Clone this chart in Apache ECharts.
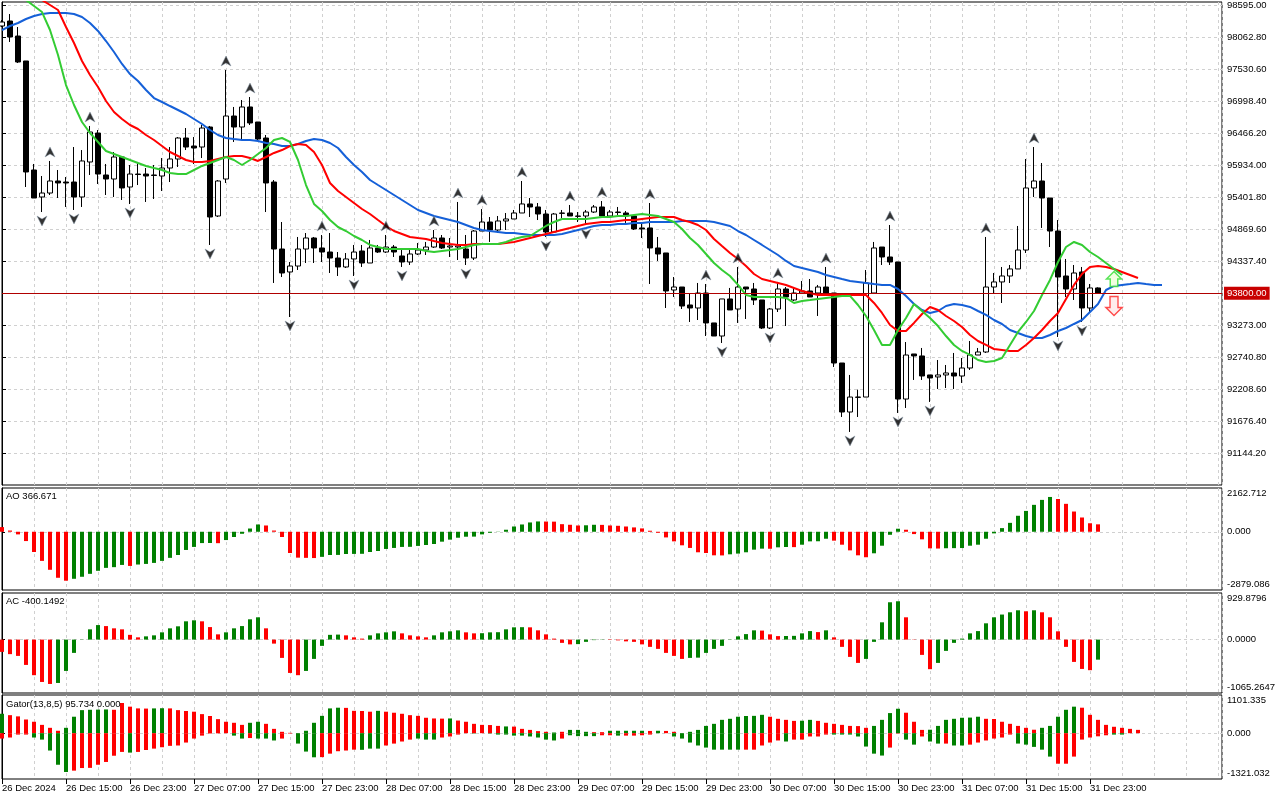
<!DOCTYPE html>
<html><head><meta charset="utf-8">
<script src="https://cdn.jsdelivr.net/npm/echarts@6/dist/echarts.min.js"></script>
<style>html,body{margin:0;padding:0;background:#fff}#c{width:1280px;height:800px}</style>
</head><body><div id="c"></div>
<script>
const timeLabels = ["26 Dec 2024","26 Dec 15:00","26 Dec 23:00","27 Dec 07:00","27 Dec 15:00","27 Dec 23:00","28 Dec 07:00","28 Dec 15:00","28 Dec 23:00","29 Dec 07:00","29 Dec 15:00","29 Dec 23:00","30 Dec 07:00","30 Dec 15:00","30 Dec 23:00","31 Dec 07:00","31 Dec 15:00","31 Dec 23:00"];
const priceTicks = [98595.00,98062.80,97530.60,96998.40,96466.20,95934.00,95401.80,94869.60,94337.40,93805.20,93273.00,92740.80,92208.60,91676.40,91144.20];
const hiddenPriceTick = 93805.20;
const priceRange = [90612, 98645];
const aoRange = [-2879.086, 2162.712];
const acRange = [-1065.2647, 929.8796];
const gatorRange = [-1321.032, 1101.335];

// [open, close, low, high]
const candles = [
[98246,98312,98229,98345],[98329,98063,97980,98445],[98079,97647,97630,98229],[97664,95818,95568,97664],[95851,95385,95385,95951],
[95402,95468,95152,95751],[95468,95668,95435,96001],[95668,95635,95385,95851],[95651,95635,95236,95734],[95651,95402,95186,96233],
[95402,96001,95236,96183],[95984,96483,95768,96583],[96466,95784,95618,96516],[95768,95701,95435,95951],[95701,96067,95402,96150],
[96067,95552,95352,96067],[95568,95784,95285,95934],[95784,95776,95601,95967],[95784,95751,95319,95884],[95768,95760,95369,95934],
[95751,95884,95502,96050],[95884,96034,95651,96233],[96034,96383,95901,96399],[96383,96233,96183,96549],[96250,96217,95951,96399],
[96233,96549,96050,96599],[96566,95069,94604,96583],[95086,95668,95069,95684],[95701,96749,95635,97514],[96749,96566,96317,96899],
[96566,96899,96350,97015],[96899,96633,96599,97065],[96649,96366,96350,96649],[96383,95635,95152,96433],[95651,94537,93972,95684],
[94537,94138,94071,94986],[94155,94254,93406,94321],[94254,94537,94188,94737],[94537,94720,94304,94803],[94720,94554,94304,94737],
[94554,94487,94321,94770],[94487,94387,94138,94803],[94387,94238,94088,94487],[94238,94371,94221,94470],[94371,94487,94088,94604],
[94504,94304,94238,94604],[94304,94554,94304,94687],[94554,94487,94471,94604],[94487,94570,94471,94770],[94570,94487,94404,94604],
[94421,94321,94238,94520],[94321,94454,94271,94520],[94454,94520,94437,94637],[94520,94570,94437,94654],[94570,94720,94554,94853],
[94720,94554,94537,94770],[94570,94587,94404,94720],[94570,94587,94354,95319],[94537,94387,94271,94770],[94387,94836,94354,94853],
[94836,94986,94836,95202],[94986,94853,94654,95069],[94853,95003,94803,95086],[95003,95036,94853,95136],[95036,95136,95036,95186],
[95136,95286,95136,95668],[95286,95236,95069,95385],[95236,95119,95019,95302],[95119,94820,94737,95186],[94820,95119,94820,95136],
[95136,95130,95053,95186],[95136,95086,95086,95269],[95086,95080,94986,95152],[95086,95152,94936,95186],[95152,95236,95136,95269],
[95236,95086,95086,95335],[95086,95152,95069,95186],[95152,95145,95103,95236],[95136,95086,94970,95169],[95086,94870,94853,95103],
[94887,94870,94720,94986],[94887,94554,93955,95302],[94554,94454,94338,94737],[94471,93839,93556,94471],[93855,93905,93739,94071],
[93905,93589,93539,93905],[93606,93556,93323,93805],[93556,93805,93356,93972],[93805,93307,93090,93955],[93307,93090,93090,93307],
[93090,93706,92974,93706],[93706,93523,93523,93889],[93539,93905,93307,94238],[93905,93872,93373,93905],[93872,93689,93606,93972],
[93689,93223,93206,93689],[93223,93539,93206,93556],[93539,93872,93489,93989],[93872,93739,93256,93905],[93689,93805,93672,93905],
[93805,93839,93805,94005],[93839,93739,93739,94038],[93805,93905,93423,93939],[93905,93805,93805,94238],[93805,92641,92575,93805],
[92641,91826,91743,92641],[91826,92075,91494,92442],[92075,92070,91743,92198],[92075,93972,92075,94188],[93805,94554,93805,94654],
[94570,94404,94271,94570],[94404,94321,94271,94936],[94321,92042,91810,94321],[92042,92774,91893,92990],[92791,92758,92359,92791],
[92758,92425,92359,92891],[92442,92392,91993,92442],[92409,92442,92209,92691],[92442,92475,92225,92608],[92475,92425,92209,92808],
[92425,92558,92309,92724],[92558,92774,92525,93007],[92774,92824,92774,92891],[92824,93905,92808,94737],[93905,93989,93805,94138],
[93989,94088,93639,94238],[94088,94205,93972,94271],[94205,94520,94205,94920],[94520,95552,94471,96034],[95552,95668,95402,96233],
[95668,95385,94887,95967],[95385,94836,94570,95385],[94836,94071,93074,95019],[94088,93872,93739,94371],[93872,94138,93689,94271],
[94155,93556,93323,94238],[93556,93889,93473,93955],[93889,93800,93790,93900]
];

const jaw = [98179,98246,98296,98362,98412,98445,98462,98462,98462,98445,
98395,98296,98163,97996,97813,97614,97447,97331,97181,97048,
96982,96915,96849,96782,96699,96616,96516,96433,96383,96366,
96350,96350,96333,96300,96283,96250,96250,96283,96333,96366,
96350,96300,96217,96067,95934,95818,95685,95601,95518,95435,
95352,95269,95186,95136,95086,95053,95019,94986,94936,94886,
94853,94836,94820,94803,94803,94787,94770,94770,94770,94770,
94787,94820,94853,94886,94920,94936,94936,94953,94953,94970,
94970,94986,94986,94986,94986,95003,95003,95003,95003,94986,
94953,94920,94836,94770,94687,94604,94520,94437,94338,94254,
94221,94188,94155,94105,94072,94038,94005,93989,93972,93955,
93939,93939,93872,93756,93623,93523,93473,93506,93589,93623,
93606,93573,93506,93440,93356,93290,93190,93140,93090,93057,
93057,93107,93173,93223,93290,93356,93489,93623,93855,93922,
93939,93955,93972,93955,93939,93939];

const teeth = [99343,99177,99011,98878,98761,98678,98595,98512,98229,97963,
97664,97431,97231,96998,96815,96699,96599,96533,96433,96350,
96250,96150,96084,96017,95984,95984,96001,96034,96067,96084,
96084,96050,96001,96067,96134,96183,96250,96283,96267,96150,
95934,95635,95502,95402,95302,95202,95119,95019,94920,94836,
94787,94737,94720,94704,94670,94637,94620,94604,94604,94620,
94620,94620,94620,94637,94654,94687,94720,94753,94787,94820,
94853,94886,94920,94953,94970,94986,94986,95003,95019,95019,
95036,95053,95069,95069,95069,95019,94986,94936,94853,94704,
94587,94471,94371,94254,94121,94038,94005,93972,93939,93889,
93839,93805,93772,93772,93772,93772,93772,93772,93772,93639,
93473,93273,93173,93173,93307,93456,93573,93523,93423,93340,
93240,93107,93007,92941,92874,92858,92841,92841,92941,93057,
93190,93340,93473,93706,93939,94121,94238,94254,94238,94205,
94155,94105,94055];

const lips = [99011,98878,98778,98678,98578,98478,98179,97763,97264,96932,
96649,96466,96317,96167,96117,96067,96017,95967,95918,95884,
95851,95801,95784,95784,95851,95918,95967,96017,96067,96017,
95934,96017,96117,96217,96350,96383,96317,96017,95601,95286,
95169,95019,94903,94836,94753,94687,94604,94570,94537,94537,
94537,94537,94537,94504,94487,94504,94520,94537,94570,94604,
94620,94620,94620,94654,94704,94737,94753,94836,94920,94986,
95036,95036,95036,95036,95053,95069,95069,95086,95086,95103,
95119,95103,95086,95036,94986,94870,94720,94604,94454,94304,
94188,94088,93939,93773,93739,93739,93739,93739,93723,93639,
93673,93689,93706,93723,93739,93756,93756,93606,93423,93190,
92941,92941,93190,93389,93623,93506,93389,93256,93090,92941,
92841,92775,92691,92658,92674,92724,92941,93157,93323,93506,
93772,94022,94321,94570,94654,94604,94487,94404,94304,94205,
94105];

const fractalUp = [6,11,28,31,40,48,54,57,60,65,71,75,81,88,92,97,103,111,123,129];
const fractalDown = [5,9,16,26,36,44,50,58,68,73,90,96,106,112,116,132,135];
const signalUp = [[139, 94038]];
const signalDown = [[139, 93589]];

const aoValues = [230,60,-130,-460,-1000,-1440,-1880,-2275,-2420,-2325,
-2225,-2080,-1930,-1785,-1750,-1640,-1690,-1620,-1590,-1540,
-1440,-1290,-1150,-900,-750,-560,-555,-565,-410,-260,
-100,160,360,310,60,-260,-1050,-1280,-1290,-1300,
-1240,-1150,-1145,-1100,-1095,-1090,-1000,-950,-850,-800,
-750,-745,-700,-655,-605,-490,-390,-295,-245,-240,
-130,-50,10,100,260,360,460,510,505,500,
375,345,310,320,345,340,310,295,260,215,
165,50,-50,-280,-475,-670,-800,-1015,-1050,-1165,
-1170,-1115,-1080,-1015,-885,-835,-840,-770,-755,-760,
-640,-475,-470,-345,-440,-640,-920,-1165,-1260,-1065,
-690,-150,150,100,-115,-375,-820,-830,-815,-810,
-805,-690,-640,-345,-80,180,440,790,1030,1330,
1575,1720,1620,1380,1000,705,420,366.671];

const acValues = [-245,-290,-325,-505,-710,-845,-885,-865,-625,-265,
5,205,290,270,225,205,95,45,65,85,
145,225,265,365,385,365,250,105,145,225,
270,405,445,225,-80,-365,-665,-710,-625,-385,
-125,95,100,85,45,20,85,125,145,165,
125,85,65,45,85,145,165,185,145,125,
128,145,148,205,245,248,245,185,105,20,
-65,-95,-90,-45,-10,-5,-8,-15,-35,-45,
-95,-145,-185,-265,-325,-385,-365,-360,-265,-185,
-125,5,65,110,185,180,105,70,72,75,
125,170,150,185,45,-145,-345,-465,-385,-45,
345,745,765,445,-5,-305,-590,-465,-225,-65,
20,125,170,325,445,500,545,585,565,585,
545,445,165,-145,-445,-585,-610,-400.1492];

const gatorUp = [560,520,485,395,330,240,155,70,155,475,
665,675,680,685,675,870,765,715,710,715,
720,715,665,640,620,550,495,405,330,300,
240,300,330,270,125,40,10,0,70,300,
500,715,735,730,645,640,620,645,620,590,
560,520,500,445,425,420,425,365,330,270,
240,235,210,195,190,125,95,60,40,20,
40,95,95,40,30,30,70,70,70,70,
70,65,70,65,40,0,40,95,210,270,
385,415,475,495,500,530,475,415,385,355,
360,385,355,300,270,240,210,205,155,210,
385,580,705,590,330,95,100,210,385,415,
445,450,475,415,410,330,270,210,155,100,
155,210,475,675,765,735,530,385,240,185,
155,125,95.734];
const gatorUpTrend = ["grrrrrrrgg","ggggrrrrrg","grrrrrrrrr","rggrrrrrgg","gggrrrrgrr","rrrrrrgrrr","rrrgrrrrrg","rgggrrgggg","grgrrrgggg","ggggggrrrr","ggrrrrrrrg","gggrrrgggg","gggrrrrrrr","gggggrrrrr","rrr"].join("");

const gatorLo = [-155,-125,-40,-40,-125,-185,-500,-910,-1120,-1080,
-1005,-1000,-910,-830,-650,-540,-560,-540,-485,-445,
-405,-365,-355,-270,-155,-70,-10,-5,0,-70,
-155,-140,-155,-155,-210,-155,-10,-300,-530,-695,
-690,-590,-520,-500,-475,-480,-445,-445,-355,-300,
-240,-185,-155,-185,-185,-125,-95,-40,0,-10,
0,-10,-40,-40,-70,-70,-95,-125,-185,-210,
-155,-60,-85,-85,-85,-60,-60,-70,-70,-70,
-60,-40,0,0,-95,-155,-270,-355,-415,-475,
-475,-475,-475,-475,-475,-355,-270,-210,-240,-185,
-185,-95,-95,-40,-40,-40,-40,-95,-385,-590,
-645,-415,-10,-185,-330,-95,-240,-300,-300,-355,
-355,-330,-270,-210,-155,-125,-40,-300,-330,-395,
-475,-675,-880,-880,-675,-185,-125,-90,-60,-40,
-40,0,0];
const gatorLoTrend = ["rrrrgggggr","rrrrrrgrrr","rrrrrrrrrg","grgggrrggg","rrrrrgggrr","rrgggrrrrg","rggggggggg","rggggrrgrr","rrrrgggggg","gggrrrrrgr","rrrrgggggg","grrggrggrg","grrrrrrggg","ggrrrrrrrg","grr"].join("");

// ---------- build chart ----------
const FONT = 'Liberation Sans';
const FS = 9.5;
const GREEN = '#008000', RED = '#ff0000';
const dash = {color:'#d0d0d0', type:[3,3], width:1};
const XMAX = 152.5;
const HBAR = 4;
const last = a => a[a.length - 1];
const lastClose = last(candles)[1];

function xAx(gi) {
  return {type:'value', gridIndex:gi, min:0, max:XMAX, interval:4,
    axisLine:{show:false}, axisTick:{show:false}, axisLabel:{show:false},
    splitLine:{show:true, lineStyle:dash}};
}
function subY(gi, range, dec) {
  const lab = {fontSize:FS, fontFamily:FONT, color:'#000'};
  return {type:'value', gridIndex:gi, position:'right', min:range[0], max:range[1],
    axisLine:{show:true, lineStyle:{color:'#000', width:1}},
    axisTick:{show:true, customValues:[0], length:3, lineStyle:{color:'#000'}},
    axisLabel:{show:true, customValues:[range[0], 0, range[1]], margin:5, fontSize:FS, fontFamily:FONT, color:'#000',
      formatter: v => {
        const s = v.toFixed(dec);
        if (Math.abs(v - range[1]) < 1e-6) return '{t|' + s + '}';
        if (Math.abs(v - range[0]) < 1e-6) return '{b|' + s + '}';
        return s;
      },
      rich:{t:Object.assign({padding:[10,0,0,0]}, lab), b:Object.assign({padding:[0,0,12,0]}, lab)}},
    splitLine:{show:true, lineStyle:dash}};
}
const gridBase = {left:2, width:1220, show:true, borderColor:'#000', borderWidth:1, backgroundColor:'#fff', containLabel:false, outerBoundsMode:'none'};
const tickBars = timeLabels.map((_, k) => k * 8);
const titleStyle = {fontSize:FS, fontFamily:FONT, fontWeight:'normal', color:'#000'};

const option = {
  animation:false,
  backgroundColor:'#fff',
  textStyle:{fontFamily:FONT},
  title:[
    {text:'AO ' + last(aoValues).toFixed(3), left:6, top:491.5, padding:0, textStyle:titleStyle},
    {text:'AC ' + last(acValues).toFixed(4), left:6, top:596, padding:0, textStyle:titleStyle},
    {text:'Gator(13,8,5) ' + last(gatorUp).toFixed(3) + ' ' + Math.abs(last(gatorLo)).toFixed(3), left:6, top:699.5, padding:0, textStyle:titleStyle}
  ],
  grid:[
    Object.assign({top:2, height:483}, gridBase),
    Object.assign({top:488, height:102}, gridBase),
    Object.assign({top:593, height:100}, gridBase),
    Object.assign({top:695, height:84}, gridBase)
  ],
  xAxis:[
    xAx(0), xAx(1), xAx(2), xAx(3),
    {type:'value', gridIndex:3, min:0, max:XMAX, position:'bottom',
      axisLine:{show:false},
      axisTick:{show:true, customValues:tickBars, length:5, lineStyle:{color:'#000'}},
      axisLabel:{show:true, customValues:tickBars, align:'left', margin:4, fontSize:FS, fontFamily:FONT, color:'#000',
        formatter: v => timeLabels[Math.round(v / 8)] || ''},
      splitLine:{show:false}}
  ],
  yAxis:[
    {type:'value', gridIndex:0, position:'right', min:priceRange[0], max:priceRange[1],
      axisLine:{show:true, lineStyle:{color:'#000', width:1}},
      axisTick:{show:true, customValues:priceTicks, length:4, lineStyle:{color:'#000'}},
      axisLabel:{show:true, customValues:priceTicks.filter(v => v !== hiddenPriceTick), margin:5,
        fontSize:FS, fontFamily:FONT, color:'#000', formatter: v => v.toFixed(2)},
      splitLine:{show:true, lineStyle:dash}},
    subY(1, aoRange, 3),
    subY(2, acRange, 4),
    subY(3, gatorRange, 3)
  ],
  series:[
    {type:'candlestick', xAxisIndex:0, yAxisIndex:0, barWidth:5,
      data:candles.map((c, i) => [i, c[0], c[1], c[2], c[3]]),
      itemStyle:{color:'#ffffff', color0:'#000000', borderColor:'#000000', borderColor0:'#000000', borderWidth:1},
      markLine:{silent:true, symbol:'none', animation:false,
        data:[{yAxis:lastClose}],
        lineStyle:{color:'#b00000', width:1, type:'solid'},
        label:{show:true, position:'end', distance:2, formatter:lastClose.toFixed(2), color:'#fff',
          backgroundColor:'#c80000', padding:[2,3,1,3], fontSize:FS, fontFamily:FONT}}},
    {type:'line', name:'Jaw', xAxisIndex:0, yAxisIndex:0, showSymbol:false, symbol:'none',
      data:jaw.map((v, i) => [i, v]), lineStyle:{color:'#1560d8', width:2}},
    {type:'line', name:'Teeth', xAxisIndex:0, yAxisIndex:0, showSymbol:false, symbol:'none',
      data:teeth.map((v, i) => [i, v]), lineStyle:{color:'#ff0000', width:2}},
    {type:'line', name:'Lips', xAxisIndex:0, yAxisIndex:0, showSymbol:false, symbol:'none',
      data:lips.map((v, i) => [i, v]), lineStyle:{color:'#33cc33', width:2}},
    {type:'scatter', xAxisIndex:0, yAxisIndex:0, z:5,
      symbol:'path://M5,0L10,10L5,7L0,10Z', symbolSize:[10,10], symbolOffset:[0,-9],
      data:fractalUp.map(i => [i, candles[i][3]]),
      itemStyle:{color:'#000', borderColor:'#8899aa', borderWidth:0.6}},
    {type:'scatter', xAxisIndex:0, yAxisIndex:0, z:5,
      symbol:'path://M0,0L5,3L10,0L5,10Z', symbolSize:[10,10], symbolOffset:[0,9],
      data:fractalDown.map(i => [i, candles[i][2]]),
      itemStyle:{color:'#000', borderColor:'#8899aa', borderWidth:0.6}},
    {type:'scatter', xAxisIndex:0, yAxisIndex:0, z:6,
      symbol:'path://M8,0L16,8L12,8L12,16L4,16L4,8L0,8Z', symbolSize:[15,15],
      data:signalUp, itemStyle:{color:'#eeffd8', borderColor:'#33dd33', borderWidth:1.5}},
    {type:'scatter', xAxisIndex:0, yAxisIndex:0, z:6,
      symbol:'path://M4,0L12,0L12,11L16,11L8,19L0,11L4,11Z', symbolSize:[16,19],
      data:signalDown, itemStyle:{color:'#ffe8e8', borderColor:'#ff2020', borderWidth:1.5}},
    {type:'bar', xAxisIndex:1, yAxisIndex:1, barWidth:HBAR,
      data:aoValues.map((v, i) => [i, v]),
      itemStyle:{color: p => (p.dataIndex > 0 && aoValues[p.dataIndex] > aoValues[p.dataIndex - 1]) ? GREEN : RED}},
    {type:'bar', xAxisIndex:2, yAxisIndex:2, barWidth:HBAR,
      data:acValues.map((v, i) => [i, v]),
      itemStyle:{color: p => (p.dataIndex > 0 && acValues[p.dataIndex] > acValues[p.dataIndex - 1]) ? GREEN : RED}},
    {type:'bar', xAxisIndex:3, yAxisIndex:3, barWidth:HBAR, stack:'gator',
      data:gatorUp.map((v, i) => [i, v]),
      itemStyle:{color: p => gatorUpTrend[p.dataIndex] === 'g' ? GREEN : RED}},
    {type:'bar', xAxisIndex:3, yAxisIndex:3, barWidth:HBAR, stack:'gator',
      data:gatorLo.map((v, i) => [i, v]),
      itemStyle:{color: p => gatorLoTrend[p.dataIndex] === 'g' ? GREEN : RED}}
  ]
};
const chart = echarts.init(document.getElementById('c'), null, {renderer:'canvas'});
chart.setOption(option);
</script>
</body></html>
